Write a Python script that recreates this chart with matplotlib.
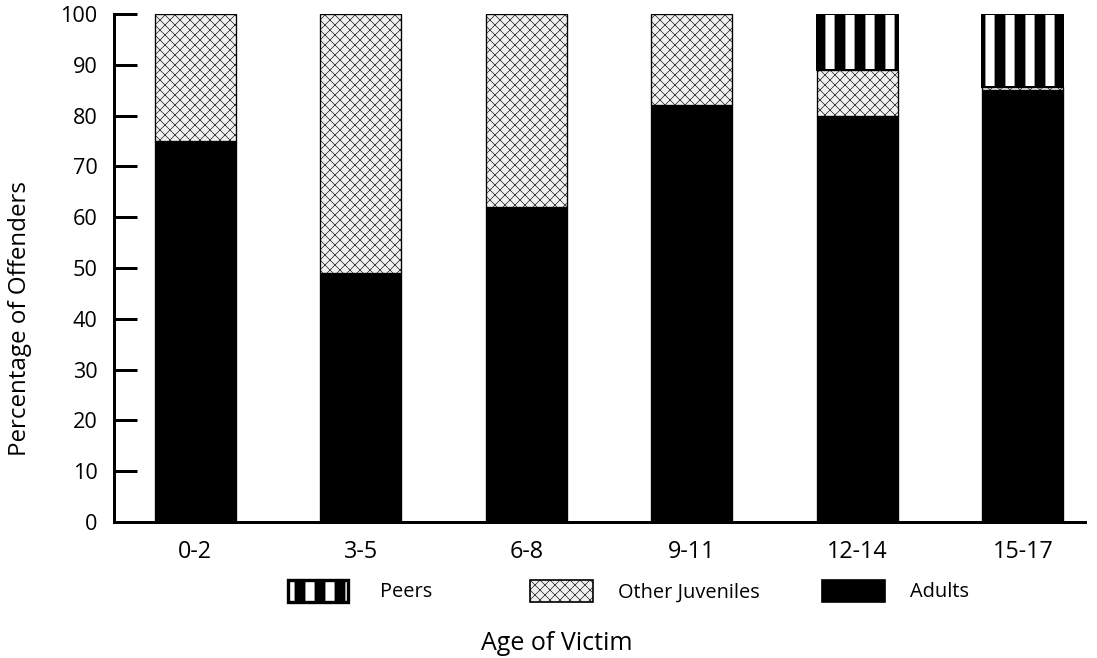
import matplotlib
matplotlib.use("Agg")
import matplotlib.pyplot as plt
from matplotlib.patches import Rectangle
from matplotlib.legend_handler import HandlerPatch
from matplotlib.colors import to_rgba
import numpy as np

categories = ["0-2", "3-5", "6-8", "9-11", "12-14", "15-17"]
adults = [75, 49, 62, 82, 80, 85]
other_juveniles = [25, 51, 38, 18, 9, 0.6]
peers = [0, 0, 0, 0, 11, 14.4]
yticks = [0, 10, 20, 30, 40, 50, 60, 70, 80, 90, 100]

DPI = 120
plt.rcParams['font.family'] = ['Open Sans', 'DejaVu Sans']
plt.rcParams['hatch.color'] = 'white'
plt.rcParams['hatch.linewidth'] = 6.0

fig = plt.figure(figsize=(1097 / DPI, 658 / DPI), dpi=DPI)
ax = fig.add_axes([114 / 1097, 1 - 522 / 658, (1085 - 114) / 1097, (522 - 14) / 658])

x = np.arange(len(categories))
w = 0.49
adults_arr = np.array(adults, dtype=float)
juv_arr = np.array(other_juveniles, dtype=float)
peers_arr = np.array(peers, dtype=float)

JUV_FACE = '#f0f0f0'
JUV_HATCH = 'xxxx'
JUV_HLW = 0.35
PEER_HLW = 5.5


def white_hatch_black_edge(p, lw):
    p.set_edgecolor('black')
    p.set_linewidth(lw)
    p._hatch_color = to_rgba('white')
    p.set_hatch_linewidth(PEER_HLW)


b_adults = ax.bar(x, adults_arr, w, color='black', edgecolor='black', linewidth=0.8)
b_juv = ax.bar(x, juv_arr, w, bottom=adults_arr, facecolor=JUV_FACE, edgecolor='black',
               linewidth=0.8, hatch=JUV_HATCH)
for p in b_juv:
    p.set_hatch_linewidth(JUV_HLW)
b_peers = ax.bar(x, peers_arr, w, bottom=adults_arr + juv_arr, facecolor='black', hatch='|')
for p in b_peers:
    white_hatch_black_edge(p, 1.2 if p.get_height() > 0 else 0)

ax.set_xlim(-0.49, 5.375)
ax.set_ylim(0, 100)
ax.set_yticks(yticks)
ax.set_yticklabels([str(v) for v in yticks])
ax.set_xticks(x)
ax.set_xticklabels(categories)

for s in ['top', 'right']:
    ax.spines[s].set_visible(False)
for s in ['left', 'bottom']:
    ax.spines[s].set_linewidth(1.8)
    ax.spines[s].set_color('black')

ax.tick_params(axis='y', direction='in', length=13.8, width=1.8, pad=10, labelsize=13)
ax.tick_params(axis='x', length=0, pad=11, labelsize=14)

fig.text(20 / 1097, 1 - 318 / 658, 'Percentage of Offenders', rotation=90,
         ha='center', va='center', fontsize=14.5)
fig.text(557 / 1097, 1 - 643 / 658, 'Age of Victim', ha='center', va='center', fontsize=15)


class HatchHandler(HandlerPatch):
    def create_artists(self, legend, orig_handle, xdescent, ydescent, width, height, fontsize, trans):
        arts = super().create_artists(legend, orig_handle, xdescent, ydescent, width, height,
                                      fontsize, trans)
        for a in arts:
            a.set_hatch_linewidth(orig_handle.get_hatch_linewidth())
        return arts


peer_proxy = Rectangle((0, 0), 1, 1, facecolor='black', hatch='|')
white_hatch_black_edge(peer_proxy, 2.0)
juv_proxy = Rectangle((0, 0), 1, 1, facecolor=JUV_FACE, edgecolor='black', linewidth=1.0, hatch=JUV_HATCH)
juv_proxy.set_hatch_linewidth(JUV_HLW)
adult_proxy = Rectangle((0, 0), 1, 1, facecolor='black', edgecolor='black')

fs = 12
leg_y = 1 - 591 / 658
for handle, label, xpix, wpix in [(peer_proxy, 'Peers', 288, 60),
                                  (juv_proxy, 'Other Juveniles', 530, 63),
                                  (adult_proxy, 'Adults', 822, 63)]:
    em = fs * DPI / 72
    fig.legend([handle], [label], loc='center left', bbox_to_anchor=(xpix / 1097, leg_y),
               frameon=False, fontsize=fs, handlelength=wpix / em, handleheight=27 / em,
               handletextpad=(32 if label == 'Peers' else 25) / em, borderpad=0, borderaxespad=0,
               handler_map={Rectangle: HatchHandler()})

fig.savefig('out.png', dpi=DPI)
